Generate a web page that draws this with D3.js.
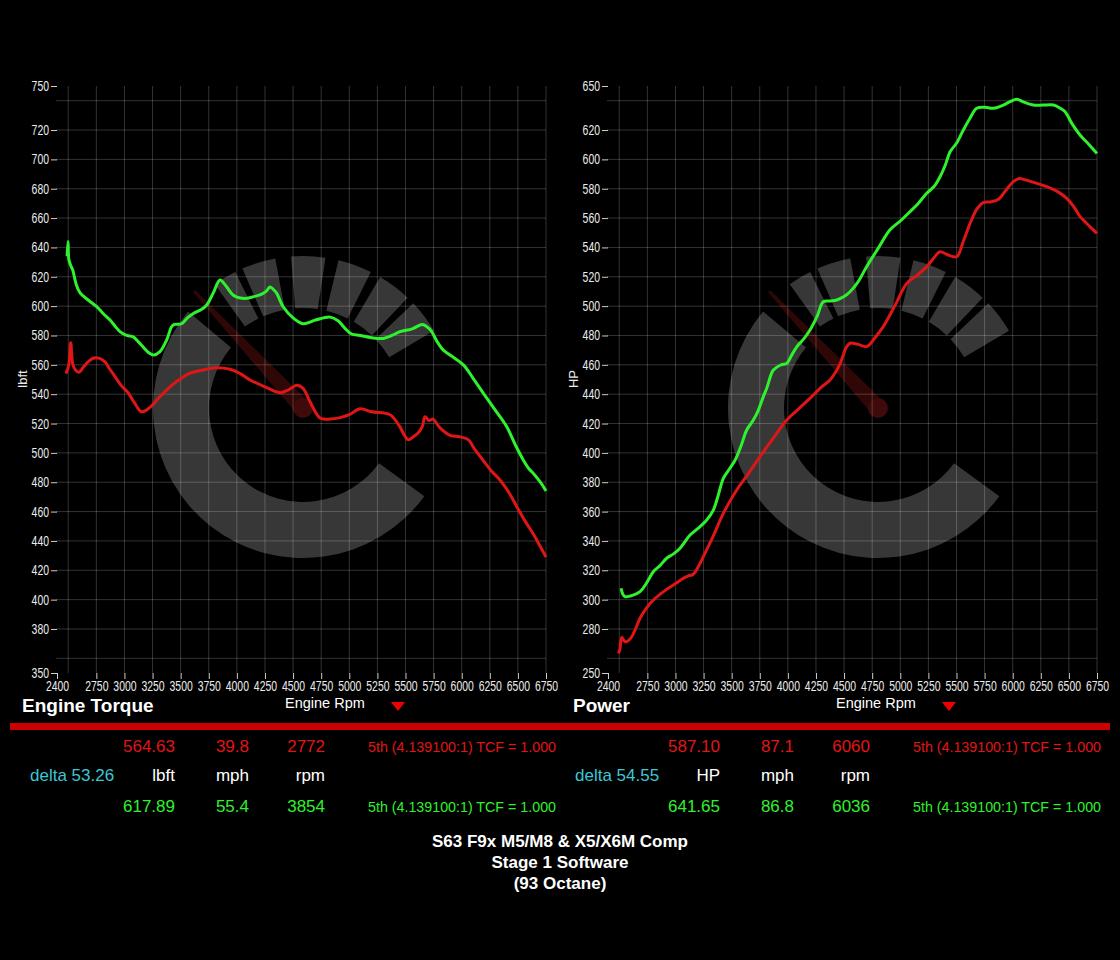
<!DOCTYPE html>
<html>
<head>
<meta charset="utf-8">
<script src="https://cdn.jsdelivr.net/npm/d3@7"></script>
<style>
body { margin: 0; background: #000; }
svg { display: block; font-family: "Liberation Sans", Arial, Helvetica, sans-serif; }
</style>
</head>
<body>
<svg id="dyno" width="1120" height="960"></svg>
<script>
// ---- axis ticks / grid ----
var rpmTicks = [2400, 2750, 3000, 3250, 3500, 3750, 4000, 4250, 4500, 4750, 5000, 5250, 5500, 5750, 6000, 6250, 6500, 6750];
var rpmGrid = [2500, 2750, 3000, 3250, 3500, 3750, 4000, 4250, 4500, 4750, 5000, 5250, 5500, 5750, 6000, 6250, 6500, 6750];
var torqueTicks = [350, 380, 400, 420, 440, 460, 480, 500, 520, 540, 560, 580, 600, 620, 640, 660, 680, 700, 720, 750];
var torqueGrid = [360, 380, 400, 420, 440, 460, 480, 500, 520, 540, 560, 580, 600, 620, 640, 660, 680, 700, 720, 740];
var hpTicks = [250, 280, 300, 320, 340, 360, 380, 400, 420, 440, 460, 480, 500, 520, 540, 560, 580, 600, 620, 650];
var hpGrid = [260, 280, 300, 320, 340, 360, 380, 400, 420, 440, 460, 480, 500, 520, 540, 560, 580, 600, 620, 640];

// ---- curves [rpm, value] ----
var torqueStock = [[2480,554],[2505,560],[2522,575],[2542,560],[2570,556],[2596,555],[2640,559],[2676,562],[2720,564.5],[2772,564.6],
  [2827,562],[2870,557],[2916,552],[2970,546],[3032,541],[3090,534],[3153,528],[3227,531],[3300,537],[3405,545],[3490,550],
  [3583,554.4],[3700,556.5],[3800,558],[3939,557],[4030,554],[4117,549.7],[4250,545],[4384,541],[4460,543],[4532,546],[4589,544],
  [4650,535],[4740,523.8],[4830,523],[4918,524],[5000,526],[5096,530],[5200,528],[5363,526],[5440,519],[5523,509],[5570,511],
  [5612,513.5],[5650,518],[5674,524.7],[5710,522],[5745,523],[5807,517],[5896,512],[5980,511],[6057,509],[6120,502],[6190,495],
  [6260,488],[6341,481.5],[6420,473],[6493,463],[6560,454],[6635,445],[6700,436],[6750,429]];
var torqueTuned = [[2490,634],[2498,644],[2505,632],[2520,628],[2540,624.6],[2570,615],[2605,609],[2680,604],[2753,599.6],[2810,595],
  [2872,590.5],[2920,586],[2960,582.6],[3020,580],[3078,579],[3120,576],[3168,572],[3220,568],[3257,566.7],[3316,569],[3376,577],
  [3420,586],[3445,587.5],[3509,588],[3560,592],[3613,595],[3680,597.5],[3732,600.8],[3790,609],[3850,617.8],[3900,614],[3966,607.6],
  [4030,605.5],[4088,605.3],[4150,606.5],[4206,607.6],[4260,610],[4295,613],[4330,611],[4355,608.7],[4412,599.6],[4500,592],
  [4589,588],[4700,590.5],[4829,592.5],[4900,590],[4960,585],[5020,581],[5096,580],[5200,578.5],[5303,578],[5380,580],[5452,582.6],
  [5560,584.5],[5650,587.5],[5690,586],[5730,583],[5780,576],[5837,570],[5900,566.5],[6015,560],[6100,551],[6193,540.6],[6300,529],
  [6401,517.8],[6480,505],[6549,495],[6600,489],[6638,486],[6700,480],[6750,474]];
var powerStock = [[2492,263.4],[2505,266],[2522,274.3],[2551,271.3],[2580,272],[2611,274.7],[2650,281],[2685,287.3],[2740,294],
  [2803,299.7],[2860,303.5],[2922,307],[3000,311],[3070,314.5],[3110,316],[3159,317.3],[3200,322],[3248,329.3],[3340,344],
  [3426,358.8],[3545,374.7],[3650,386],[3752,397.4],[3870,410],[3990,422.4],[4110,431],[4226,439.4],[4300,445],[4375,449.7],
  [4460,460],[4520,472],[4553,474.7],[4620,474],[4702,472.4],[4780,479],[4849,486],[4950,500],[5058,515.5],[5150,521],[5236,526.9],
  [5300,533],[5354,537],[5420,535],[5502,533.7],[5560,544],[5621,556.4],[5680,566],[5739,570.5],[5800,571],[5873,572.8],[5940,579],
  [6006,584.8],[6060,587],[6095,586.4],[6200,584],[6303,581.4],[6400,578],[6481,573.4],[6550,567],[6599,561],[6650,557],[6688,554],
  [6750,549.6]];
var powerTuned = [[2516,307.7],[2530,304],[2551,302],[2600,302.5],[2685,305.4],[2740,311],[2803,319],[2860,323],[2922,328.2],
  [2980,331],[3041,335],[3090,340],[3130,344],[3200,348.5],[3278,354.3],[3337,361],[3380,371],[3426,382.7],[3480,389],[3530,395],
  [3580,404],[3634,415.6],[3690,422],[3737,429],[3780,438],[3812,444],[3871,456.5],[3940,460],[3990,461],[4030,466],[4079,472.3],
  [4140,477.5],[4197,483.7],[4260,493],[4315,503],[4380,503.5],[4435,504.2],[4500,506.5],[4553,509.8],[4620,516],[4702,527],
  [4800,539],[4909,552],[5000,558],[5087,564.4],[5160,570],[5235,576.9],[5300,581.5],[5354,588.2],[5400,596],[5443,605.2],
  [5500,611],[5561,620],[5620,628],[5680,634.8],[5750,635.5],[5828,634.8],[5917,637],[5980,639.5],[6036,640.9],[6100,639],
  [6184,637],[6270,637],[6362,637],[6420,635],[6466,632.5],[6530,624],[6599,616.6],[6680,610],[6750,604]];

// ---- readouts ----
var torqueStockRead = ["564.63", "39.8", "2772"];
var torqueTunedRead = ["617.89", "55.4", "3854"];
var torqueUnits = ["lbft", "mph", "rpm"];
var torqueDelta = "delta 53.26";
var powerStockRead = ["587.10", "87.1", "6060"];
var powerTunedRead = ["641.65", "86.8", "6036"];
var powerUnits = ["HP", "mph", "rpm"];
var powerDelta = "delta 54.55";
var gearText = "5th (4.139100:1) TCF = 1.000";
var titleLines = ["S63 F9x M5/M8 & X5/X6M Comp", "Stage 1 Software", "(93 Octane)"];

var RED = "#e01616", GREEN = "#2ef22e", CYAN = "#3cc6d6";

var svg = d3.select("#dyno");
svg.append("rect").attr("width", 1120).attr("height", 960).attr("fill", "#000");

function panel(o) {
  var x = d3.scaleLinear().domain([2400, 6750]).range([o.x0, o.x0 + 489]);
  var y = d3.scaleLinear().domain(o.yDomain).range([673, 86]);
  var g = svg.append("g");

  // watermark logo
  var wm = g.append("g").attr("transform", "translate(" + o.wm + ",408)");
  var rad = Math.PI / 180;
  wm.append("path").attr("fill", "#373737")
    .attr("d", d3.arc()({innerRadius: 94, outerRadius: 150, startAngle: 126 * rad, endAngle: 310 * rad}));
  [[-31, 9], [-17, 13], [2, 13], [20, 13], [37, 13], [53, 13]].forEach(function(b) {
    wm.append("path").attr("fill", "#373737")
      .attr("d", d3.arc()({innerRadius: 100, outerRadius: 152,
        startAngle: (b[0] - b[1] / 2) * rad, endAngle: (b[0] + b[1] / 2) * rad}));
  });
  wm.append("path").attr("fill", "#300707").attr("d", "M-110,-116 L-108,-118 L6,-6 L-6,6 Z");
  wm.append("circle").attr("r", 10).attr("fill", "#3e0a0a");

  // grid
  g.append("g").selectAll("line").data(o.grid).enter().append("line")
    .attr("x1", x(2400) - 1).attr("x2", x(6750)).attr("y1", function(d) { return y(d); }).attr("y2", function(d) { return y(d); })
    .attr("stroke", "rgba(255,255,255,0.2)");
  g.append("g").selectAll("line").data(rpmGrid).enter().append("line")
    .attr("y1", y.range()[1]).attr("y2", y.range()[0]).attr("x1", function(d) { return x(d); }).attr("x2", function(d) { return x(d); })
    .attr("stroke", "rgba(255,255,255,0.2)");

  // axes
  var ya = g.append("g").attr("transform", "translate(" + x(2400) + ",0)")
    .call(d3.axisLeft(y).tickValues(o.ticks).tickSize(6).tickPadding(2));
  var xa = g.append("g").attr("transform", "translate(0,673)")
    .call(d3.axisBottom(x).tickValues(rpmTicks).tickSize(6).tickPadding(3).tickFormat(d3.format("d")));
  [ya, xa].forEach(function(a) {
    a.select(".domain").remove();
    a.selectAll(".tick line").attr("stroke", "#cfcfcf");
    a.selectAll("text").attr("fill", "#ececec").attr("font-size", 14).attr("font-family", null)
      .attr("textLength", function() { return this.textContent.length * 5.8; })
      .attr("lengthAdjust", "spacingAndGlyphs");
  });
  xa.selectAll("text").attr("dy", "0.62em");

  g.append("text").attr("transform", "translate(" + o.unitX + ",379) rotate(-90)")
    .attr("text-anchor", "middle").attr("fill", "#ececec").attr("font-size", 13).text(o.unit);

  // curves
  var line = d3.line().curve(d3.curveCatmullRom.alpha(0.5))
    .x(function(d) { return x(d[0]); }).y(function(d) { return y(d[1]); });
  g.append("path").datum(o.stock).attr("d", line).attr("fill", "none").attr("stroke", RED).attr("stroke-width", 3);
  g.append("path").datum(o.tuned).attr("d", line).attr("fill", "none").attr("stroke", GREEN).attr("stroke-width", 3);

  // titles under the chart
  g.append("text").attr("x", o.x0 - 35).attr("y", 712).attr("fill", "#fff").attr("font-size", 19)
    .attr("font-weight", "bold").text(o.title);
  g.append("text").attr("x", o.x0 + 228).attr("y", 708).attr("fill", "#fff").attr("font-size", 14.5).text("Engine Rpm");
  var tx = o.x0 + 334;
  g.append("path").attr("d", "M" + tx + ",702 L" + (tx + 14) + ",702 L" + (tx + 7) + ",711 Z").attr("fill", "#ee0000");

  // readout table
  var cols = [175, 249, 325].map(function(c) { return c + o.dx; });
  function row(vals, yy, col) {
    vals.forEach(function(v, i) {
      svg.append("text").attr("x", cols[i]).attr("y", yy).attr("text-anchor", "end")
        .attr("fill", col).attr("font-size", 17).text(v);
    });
  }
  row(o.stockRead, 752, RED);
  row(o.units, 781, "#fff");
  row(o.tunedRead, 812, GREEN);
  svg.append("text").attr("x", 30 + o.dx).attr("y", 781).attr("fill", CYAN).attr("font-size", 17).text(o.delta);
  [[752, RED], [812, GREEN]].forEach(function(r) {
    svg.append("text").attr("x", 368 + o.dx).attr("y", r[0]).attr("fill", r[1]).attr("font-size", 14.5)
      .attr("textLength", 188).attr("lengthAdjust", "spacingAndGlyphs").text(gearText);
  });
}

panel({x0: 57, dx: 0, yDomain: [350, 750], ticks: torqueTicks, grid: torqueGrid, wm: 303, unit: "lbft", unitX: 27,
  stock: torqueStock, tuned: torqueTuned, title: "Engine Torque",
  stockRead: torqueStockRead, tunedRead: torqueTunedRead, units: torqueUnits, delta: torqueDelta});
panel({x0: 608, dx: 545, yDomain: [250, 650], ticks: hpTicks, grid: hpGrid, wm: 878, unit: "HP", unitX: 578,
  stock: powerStock, tuned: powerTuned, title: "Power",
  stockRead: powerStockRead, tunedRead: powerTunedRead, units: powerUnits, delta: powerDelta});

// red divider
svg.append("rect").attr("x", 10).attr("y", 723).attr("width", 1100).attr("height", 7).attr("fill", "#cc0000");

// run description
svg.append("g").selectAll("text").data(titleLines).enter().append("text")
  .attr("x", 560).attr("y", function(d, i) { return 847 + i * 21; })
  .attr("text-anchor", "middle").attr("fill", "#fff").attr("font-size", 17).attr("font-weight", "bold")
  .text(function(d) { return d; });
</script>
</body>
</html>
